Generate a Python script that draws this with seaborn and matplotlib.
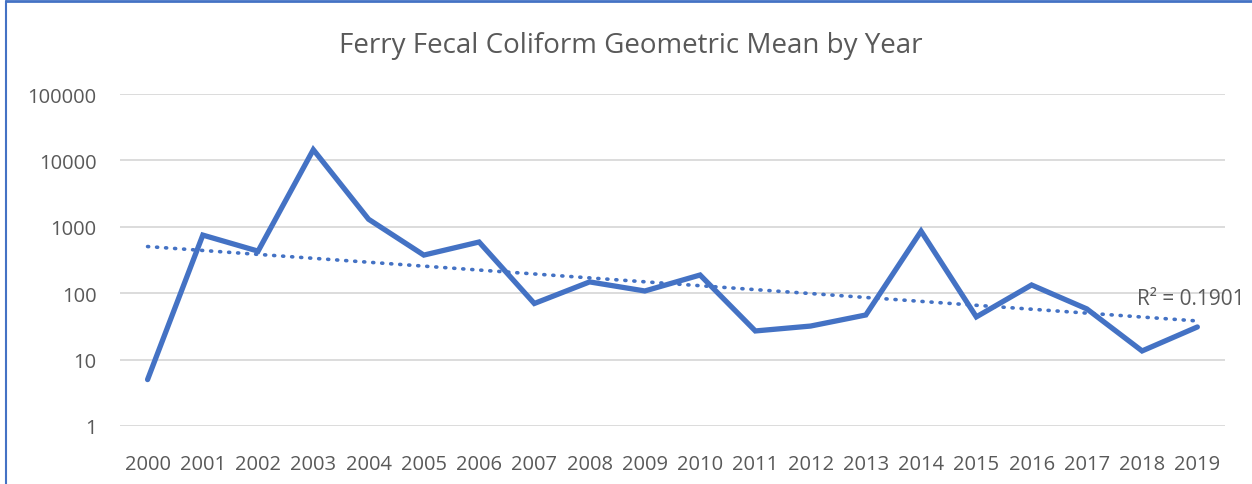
import matplotlib.pyplot as plt
import numpy as np
import pandas as pd
import seaborn as sns
from matplotlib.lines import Line2D

YEARS = list(range(2000, 2020))
GEO_MEANS = [5, 750, 430, 14500, 1300, 375, 590, 70, 148, 108,
             188, 27, 32, 47, 860, 44, 133, 58, 13.5, 31]
Y_TICKS = [1, 10, 100, 1000, 10000, 100000]
TITLE = 'Ferry Fecal Coliform Geometric Mean by Year'
R2_LABEL = 'R² = 0.1901'

BLUE = '#4472C4'
GREY = '#595959'


def main():
    sns.set_style('white')
    plt.rcParams['font.family'] = ['Open Sans', 'DejaVu Sans']

    df = pd.DataFrame({'pos': np.arange(len(YEARS)), 'value': GEO_MEANS})

    # exponential trendline, like Excel's (fit on log values)
    slope, icept = np.polyfit(df['pos'] + 1, np.log(df['value']), 1)
    df['trend'] = np.exp(icept + slope * (df['pos'] + 1))

    fig = plt.figure(figsize=(12.52, 4.85), dpi=100)
    ax = fig.add_axes([0.0958, 0.1196, 0.8826, 0.6845])

    sns.lineplot(df, x='pos', y='trend', ax=ax, color=BLUE, lw=2.6,
                 linestyle=(0, (0.3, 2.2)), dash_capstyle='round')
    sns.lineplot(df, x='pos', y='value', ax=ax, color=BLUE, lw=3.8,
                 solid_joinstyle='miter')

    ax.set_yscale('log')
    ax.set_ylim(1, 100000)
    ax.set_xlim(-0.5, len(YEARS) - 0.5)
    ax.set_yticks(Y_TICKS)
    ax.set_yticklabels([str(t) for t in Y_TICKS])
    ax.minorticks_off()
    ax.set_xticks(df['pos'])
    ax.set_xticklabels([str(y) for y in YEARS])
    ax.tick_params(colors=GREY, labelsize=14.5, length=0)
    ax.tick_params(axis='y', pad=17)
    ax.tick_params(axis='x', pad=20)
    ax.set_xlabel('')
    ax.set_ylabel('')
    ax.grid(axis='y', color='#d9d9d9', lw=1.3)
    ax.grid(axis='x', visible=False)
    for s in ax.spines.values():
        s.set_visible(False)

    ax.text(df['pos'].iloc[-1] - 1.1, df['trend'].iloc[-1] * 2.2, R2_LABEL,
            ha='left', va='center', color=GREY, fontsize=15, clip_on=False)

    fig.text(0.504, 0.905, TITLE, ha='center', va='center',
             color=GREY, fontsize=20)

    # chart frame (top and left edges visible in the crop)
    fig.add_artist(Line2D([0.005, 1], [0.995, 0.995], color=BLUE, lw=2,
                          transform=fig.transFigure))
    fig.add_artist(Line2D([0.005, 0.005], [0, 0.995], color=BLUE, lw=1.5,
                          transform=fig.transFigure))

    fig.savefig('out.png', dpi=100)


if __name__ == '__main__':
    main()
